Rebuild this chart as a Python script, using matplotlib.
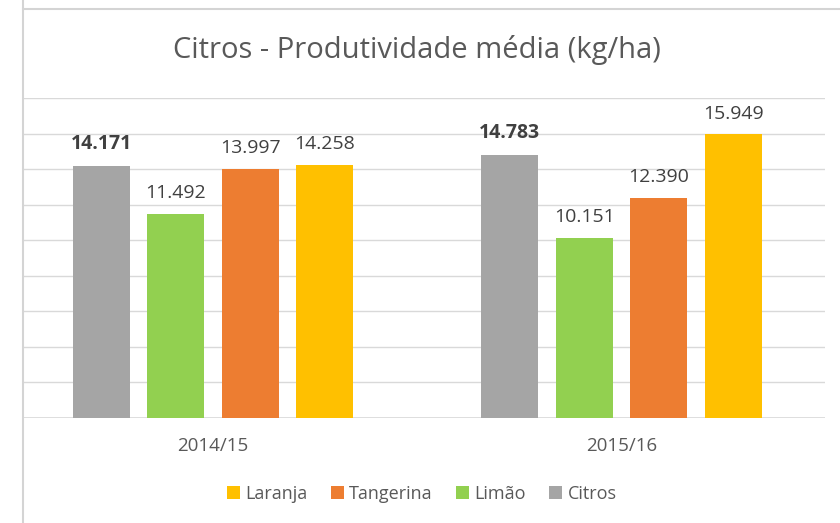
import matplotlib
matplotlib.use("Agg")
import matplotlib.pyplot as plt
from matplotlib.lines import Line2D
from matplotlib.patches import Patch
import numpy as np

plt.rcParams['font.family'] = ['Open Sans', 'DejaVu Sans']

categories = ["2014/15", "2015/16"]
series_names = ["Citros", "Limão", "Tangerina", "Laranja"]
citros = [14171, 14783]
limao = [11492, 10151]
tangerina = [13997, 12390]
laranja = [14258, 15949]
value_labels = {
    "Citros": ["14.171", "14.783"],
    "Limão": ["11.492", "10.151"],
    "Tangerina": ["13.997", "12.390"],
    "Laranja": ["14.258", "15.949"],
}
colors = {"Citros": "#A5A5A5", "Limão": "#92D050", "Tangerina": "#ED7D31", "Laranja": "#FFC000"}
values = {"Citros": citros, "Limão": limao, "Tangerina": tangerina, "Laranja": laranja}

W, H = 840, 523
fig = plt.figure(figsize=(W / 100, H / 100), dpi=100)
fig.patch.set_facecolor("white")

ax_l, ax_r, ax_b, ax_t = 23, 825, 418, 98
ax = fig.add_axes([ax_l / W, 1 - ax_b / H, (ax_r - ax_l) / W, (ax_b - ax_t) / H])
ax.set_ylim(0, 18000)
ax.set_xlim(-0.465, 1.498)
ax.set_yticks(np.arange(0, 18001, 2000))
ax.yaxis.grid(True, color="#D9D9D9", linewidth=1.0)
ax.set_axisbelow(True)
for s in ax.spines.values():
    s.set_visible(False)
ax.tick_params(axis="y", left=False, labelleft=False)
ax.tick_params(axis="x", bottom=False, labelsize=13.5, labelcolor="#595959", pad=10)
ax.axhline(0, color="#D9D9D9", linewidth=1.2)

x = np.arange(len(categories))
bw = 0.1395
step = 0.1824
for i, name in enumerate(series_names):
    off = (i - 1.5) * step
    bars = ax.bar(x + off, values[name], width=bw, color=colors[name], zorder=2)
    for j, b in enumerate(bars):
        ax.annotate(value_labels[name][j], (b.get_x() + b.get_width() / 2, b.get_height()),
                    xytext=(0, 8.5), textcoords="offset points", ha="center", va="bottom",
                    fontsize=14, color="#404040",
                    fontweight="bold" if name == "Citros" else "normal")
ax.set_xticks(x)
ax.set_xticklabels(categories)

fig.text(417 / W, 1 - 50 / H, "Citros - Produtividade média (kg/ha)", ha="center", va="center",
         fontsize=21, color="#595959")

order = ["Laranja", "Tangerina", "Limão", "Citros"]
handles = [Patch(facecolor=colors[n], edgecolor="none") for n in order]
fig.legend(handles, order, loc="center", bbox_to_anchor=(422 / W, 1 - 494 / H), ncol=4,
           frameon=False, fontsize=13, labelcolor="#595959", handlelength=0.7, handleheight=0.7,
           handletextpad=0.3, columnspacing=1.3)

# sheet border lines
fig.add_artist(Line2D([23 / W, 23 / W], [0, 1], color="#D4D4D4", linewidth=1.5))
fig.add_artist(Line2D([23 / W, 1], [1 - 9 / H, 1 - 9 / H], color="#D4D4D4", linewidth=1.5))

fig.savefig("out.png", dpi=100)
